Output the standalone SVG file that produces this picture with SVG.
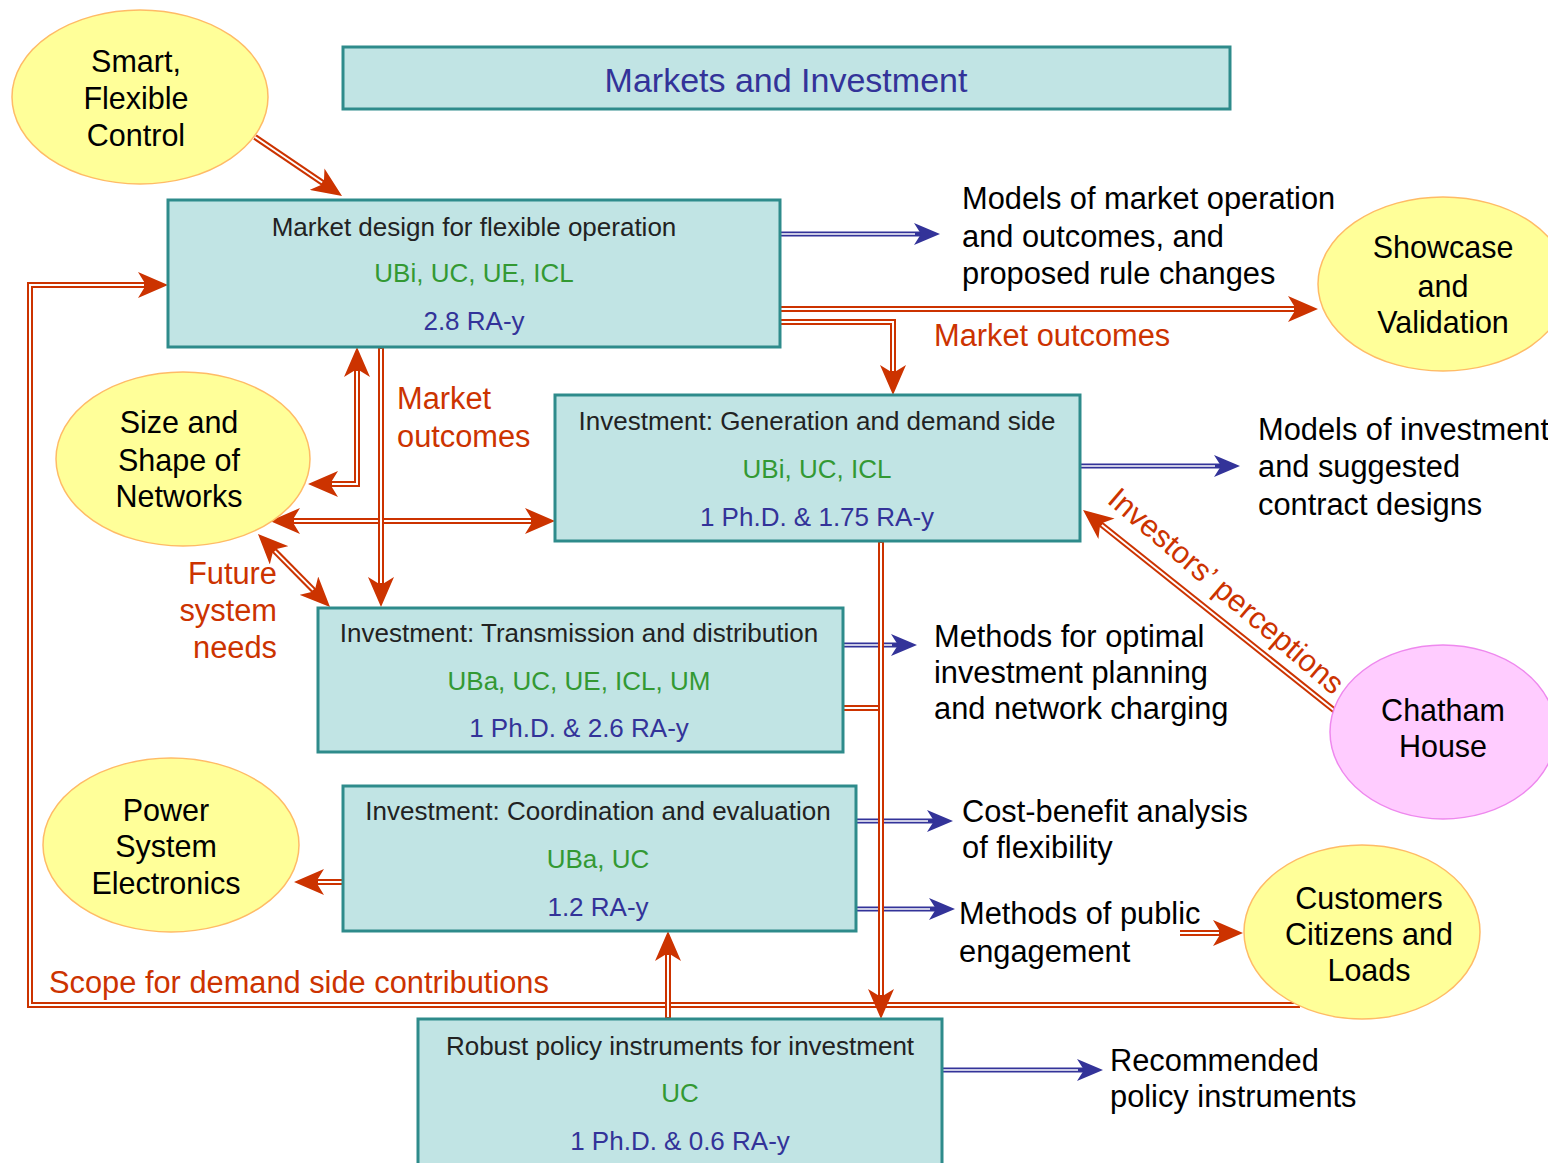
<svg xmlns="http://www.w3.org/2000/svg" width="1548" height="1163" viewBox="0 0 1548 1163">
<defs>
<style>
text{font-family:"Liberation Sans",Arial,sans-serif}
.box{fill:#c1e4e4;stroke:#2e8b8b;stroke-width:3}
.ell{fill:#ffff99;stroke:#ffbb66;stroke-width:1.5}
.pink{fill:#ffccff;stroke:#ee88ee;stroke-width:1.5}
.bt{font-size:26px;fill:#222;text-anchor:middle}
.bg{font-size:26px;fill:#339933;text-anchor:middle}
.bb{font-size:26px;fill:#333399;text-anchor:middle}
.et{font-size:30.5px;fill:#000;text-anchor:middle}
.lt{font-size:30.8px;fill:#000}
.rt{font-size:30.8px;fill:#cc3300}
.r{stroke:#cc3300;stroke-width:6;fill:none}
.b{stroke:#333399;stroke-width:5;fill:none}
.w{stroke:#fff;stroke-width:2;fill:none}
.bw{stroke:#fff;stroke-width:1.5;fill:none}
.ra{marker-end:url(#ar)}
.rs{marker-start:url(#ar)}
.ba{marker-end:url(#ab)}
</style>
<marker id="ar" markerUnits="userSpaceOnUse" viewBox="0 0 30 26" markerWidth="30" markerHeight="26" refX="22" refY="13" orient="auto-start-reverse">
<path d="M0,0 L30,13 L0,26 L8,13 z" fill="#cc3300"/>
</marker>
<marker id="ab" markerUnits="userSpaceOnUse" viewBox="0 0 26 22" markerWidth="26" markerHeight="22" refX="19" refY="11" orient="auto">
<path d="M0,0 L26,11 L0,22 L7,11 z" fill="#333399"/>
</marker>
</defs>
<rect width="1548" height="1163" fill="#fff"/>

<g id="title">
<rect class="box" x="343" y="47" width="887" height="62"/>
<text x="786" y="92" style="font-size:34px;fill:#333399;text-anchor:middle">Markets and Investment</text>
</g>

<g id="connectors">
<path class="r ra" d="M255,137 L335.4,191.5"/><path class="w" d="M255,137 L322.1,182.5"/>
<path class="b ba" d="M780,234 H933"/><path class="bw" d="M780,234 H915"/>
<path class="r ra" d="M780,309 H1310"/><path class="w" d="M780,309 H1294"/>
<path class="r ra" d="M780,322 H893 V387"/><path class="w" d="M780,322 H893 V371"/>
<path class="r ra" d="M1300,1005 H30 V285 H160"/><path class="w" d="M1300,1005 H30 V285 H144"/>
<path class="r rs ra" d="M316,484 H357 V355"/><path class="w" d="M332,484 H357 V371"/>
<path class="r rs ra" d="M278,521 H547"/><path class="w" d="M294,521 H531"/>
<path class="r ra" d="M381,347 V599"/><path class="w" d="M381,349 V583"/>
<path class="r rs ra" d="M263.6,539.7 L324.4,601.3"/><path class="w" d="M274.8,551.1 L313.2,589.9"/>
<path class="b ba" d="M1080,466 H1233"/><path class="bw" d="M1080,466 H1215"/>
<path class="r ra" d="M1335,711 L1089.3,515"/><path class="w" d="M1335,711 L1101.8,525"/>
<path class="b ba" d="M843,645 H910"/><path class="bw" d="M843,645 H892"/>
<path class="b ba" d="M856,821 H946"/><path class="bw" d="M856,821 H928"/>
<path class="b ba" d="M856,909 H948"/><path class="bw" d="M856,909 H930"/>
<path class="b ba" d="M942,1070 H1096"/><path class="bw" d="M942,1070 H1078"/>
<path class="r" d="M843,708 H880"/><path class="w" d="M843,708 H880"/>
<path class="r ra" d="M881,541 V1011"/><path class="w" d="M881,543 V995"/>
<path class="r ra" d="M343,882 H302"/><path class="w" d="M343,882 H318"/>
<path class="r ra" d="M668,1019 V939"/><path class="w" d="M668,1017 V955"/>
<path class="r ra" d="M1180,933 H1235"/><path class="w" d="M1180,933 H1219"/>
</g>

<g id="market-design">
<rect class="box" x="168" y="200" width="612" height="147"/>
<text class="bt" x="474" y="236">Market design for flexible operation</text>
<text class="bg" x="474" y="282">UBi, UC, UE, ICL</text>
<text class="bb" x="474" y="330">2.8 RA-y</text>
</g>
<g id="inv-generation">
<rect class="box" x="555" y="395" width="525" height="146"/>
<text class="bt" x="817" y="430">Investment:  Generation and demand side</text>
<text class="bg" x="817" y="478">UBi, UC, ICL</text>
<text class="bb" x="817" y="526">1 Ph.D. &amp; 1.75 RA-y</text>
</g>
<g id="inv-transmission">
<rect class="box" x="318" y="608" width="525" height="144"/>
<text class="bt" x="579" y="642">Investment: Transmission and distribution</text>
<text class="bg" x="579" y="690">UBa, UC, UE, ICL, UM</text>
<text class="bb" x="579" y="737">1 Ph.D. &amp; 2.6 RA-y</text>
</g>
<g id="inv-coordination">
<rect class="box" x="343" y="786" width="513" height="145"/>
<text class="bt" x="598" y="820">Investment: Coordination and evaluation</text>
<text class="bg" x="598" y="868">UBa, UC</text>
<text class="bb" x="598" y="916">1.2 RA-y</text>
</g>
<g id="policy">
<rect class="box" x="418" y="1019" width="524" height="150"/>
<text class="bt" x="680" y="1055">Robust policy instruments for investment</text>
<text class="bg" x="680" y="1102">UC</text>
<text class="bb" x="680" y="1150">1 Ph.D. &amp; 0.6 RA-y</text>
</g>

<g id="smart">
<ellipse class="ell" cx="140" cy="97" rx="128" ry="87"/>
<text class="et" x="136" y="72">Smart,</text>
<text class="et" x="136" y="109">Flexible</text>
<text class="et" x="136" y="146">Control</text>
</g>
<g id="showcase">
<ellipse class="ell" cx="1443" cy="284" rx="125" ry="87"/>
<text class="et" x="1443" y="258">Showcase</text>
<text class="et" x="1443" y="297">and</text>
<text class="et" x="1443" y="333">Validation</text>
</g>
<g id="size-shape">
<ellipse class="ell" cx="183" cy="459" rx="127" ry="87"/>
<text class="et" x="179" y="433">Size and</text>
<text class="et" x="179" y="471">Shape of</text>
<text class="et" x="179" y="507">Networks</text>
</g>
<g id="chatham">
<ellipse class="pink" cx="1443" cy="732" rx="113" ry="87"/>
<text class="et" x="1443" y="721">Chatham</text>
<text class="et" x="1443" y="757">House</text>
</g>
<g id="power-electronics">
<ellipse class="ell" cx="171" cy="845" rx="128" ry="87"/>
<text class="et" x="166" y="821">Power</text>
<text class="et" x="166" y="857">System</text>
<text class="et" x="166" y="894">Electronics</text>
</g>
<g id="customers">
<ellipse class="ell" cx="1362" cy="932" rx="118" ry="87"/>
<text class="et" x="1369" y="909">Customers</text>
<text class="et" x="1369" y="945">Citizens and</text>
<text class="et" x="1369" y="981">Loads</text>
</g>

<g id="labels">
<text class="lt" x="962" y="209">Models of market operation</text>
<text class="lt" x="962" y="247">and outcomes, and</text>
<text class="lt" x="962" y="284">proposed rule changes</text>
<text class="lt" x="1258" y="440">Models of investment</text>
<text class="lt" x="1258" y="477">and suggested</text>
<text class="lt" x="1258" y="515">contract designs</text>
<text class="lt" x="934" y="647">Methods for optimal</text>
<text class="lt" x="934" y="683">investment planning</text>
<text class="lt" x="934" y="719">and network charging</text>
<text class="lt" x="962" y="822">Cost-benefit analysis</text>
<text class="lt" x="962" y="858">of flexibility</text>
<text class="lt" x="959" y="924">Methods of public</text>
<text class="lt" x="959" y="962">engagement</text>
<text class="lt" x="1110" y="1071">Recommended</text>
<text class="lt" x="1110" y="1107">policy instruments</text>
<text class="rt" x="934" y="346">Market outcomes</text>
<text class="rt" x="397" y="409">Market</text>
<text class="rt" x="397" y="447">outcomes</text>
<text class="rt" x="277" y="584" text-anchor="end">Future</text>
<text class="rt" x="277" y="621" text-anchor="end">system</text>
<text class="rt" x="277" y="658" text-anchor="end">needs</text>
<text class="rt" x="49" y="993">Scope for demand side contributions</text>
<text class="rt" transform="translate(1106,502) rotate(40.5)">Investors’ perceptions</text>
</g>
</svg>
